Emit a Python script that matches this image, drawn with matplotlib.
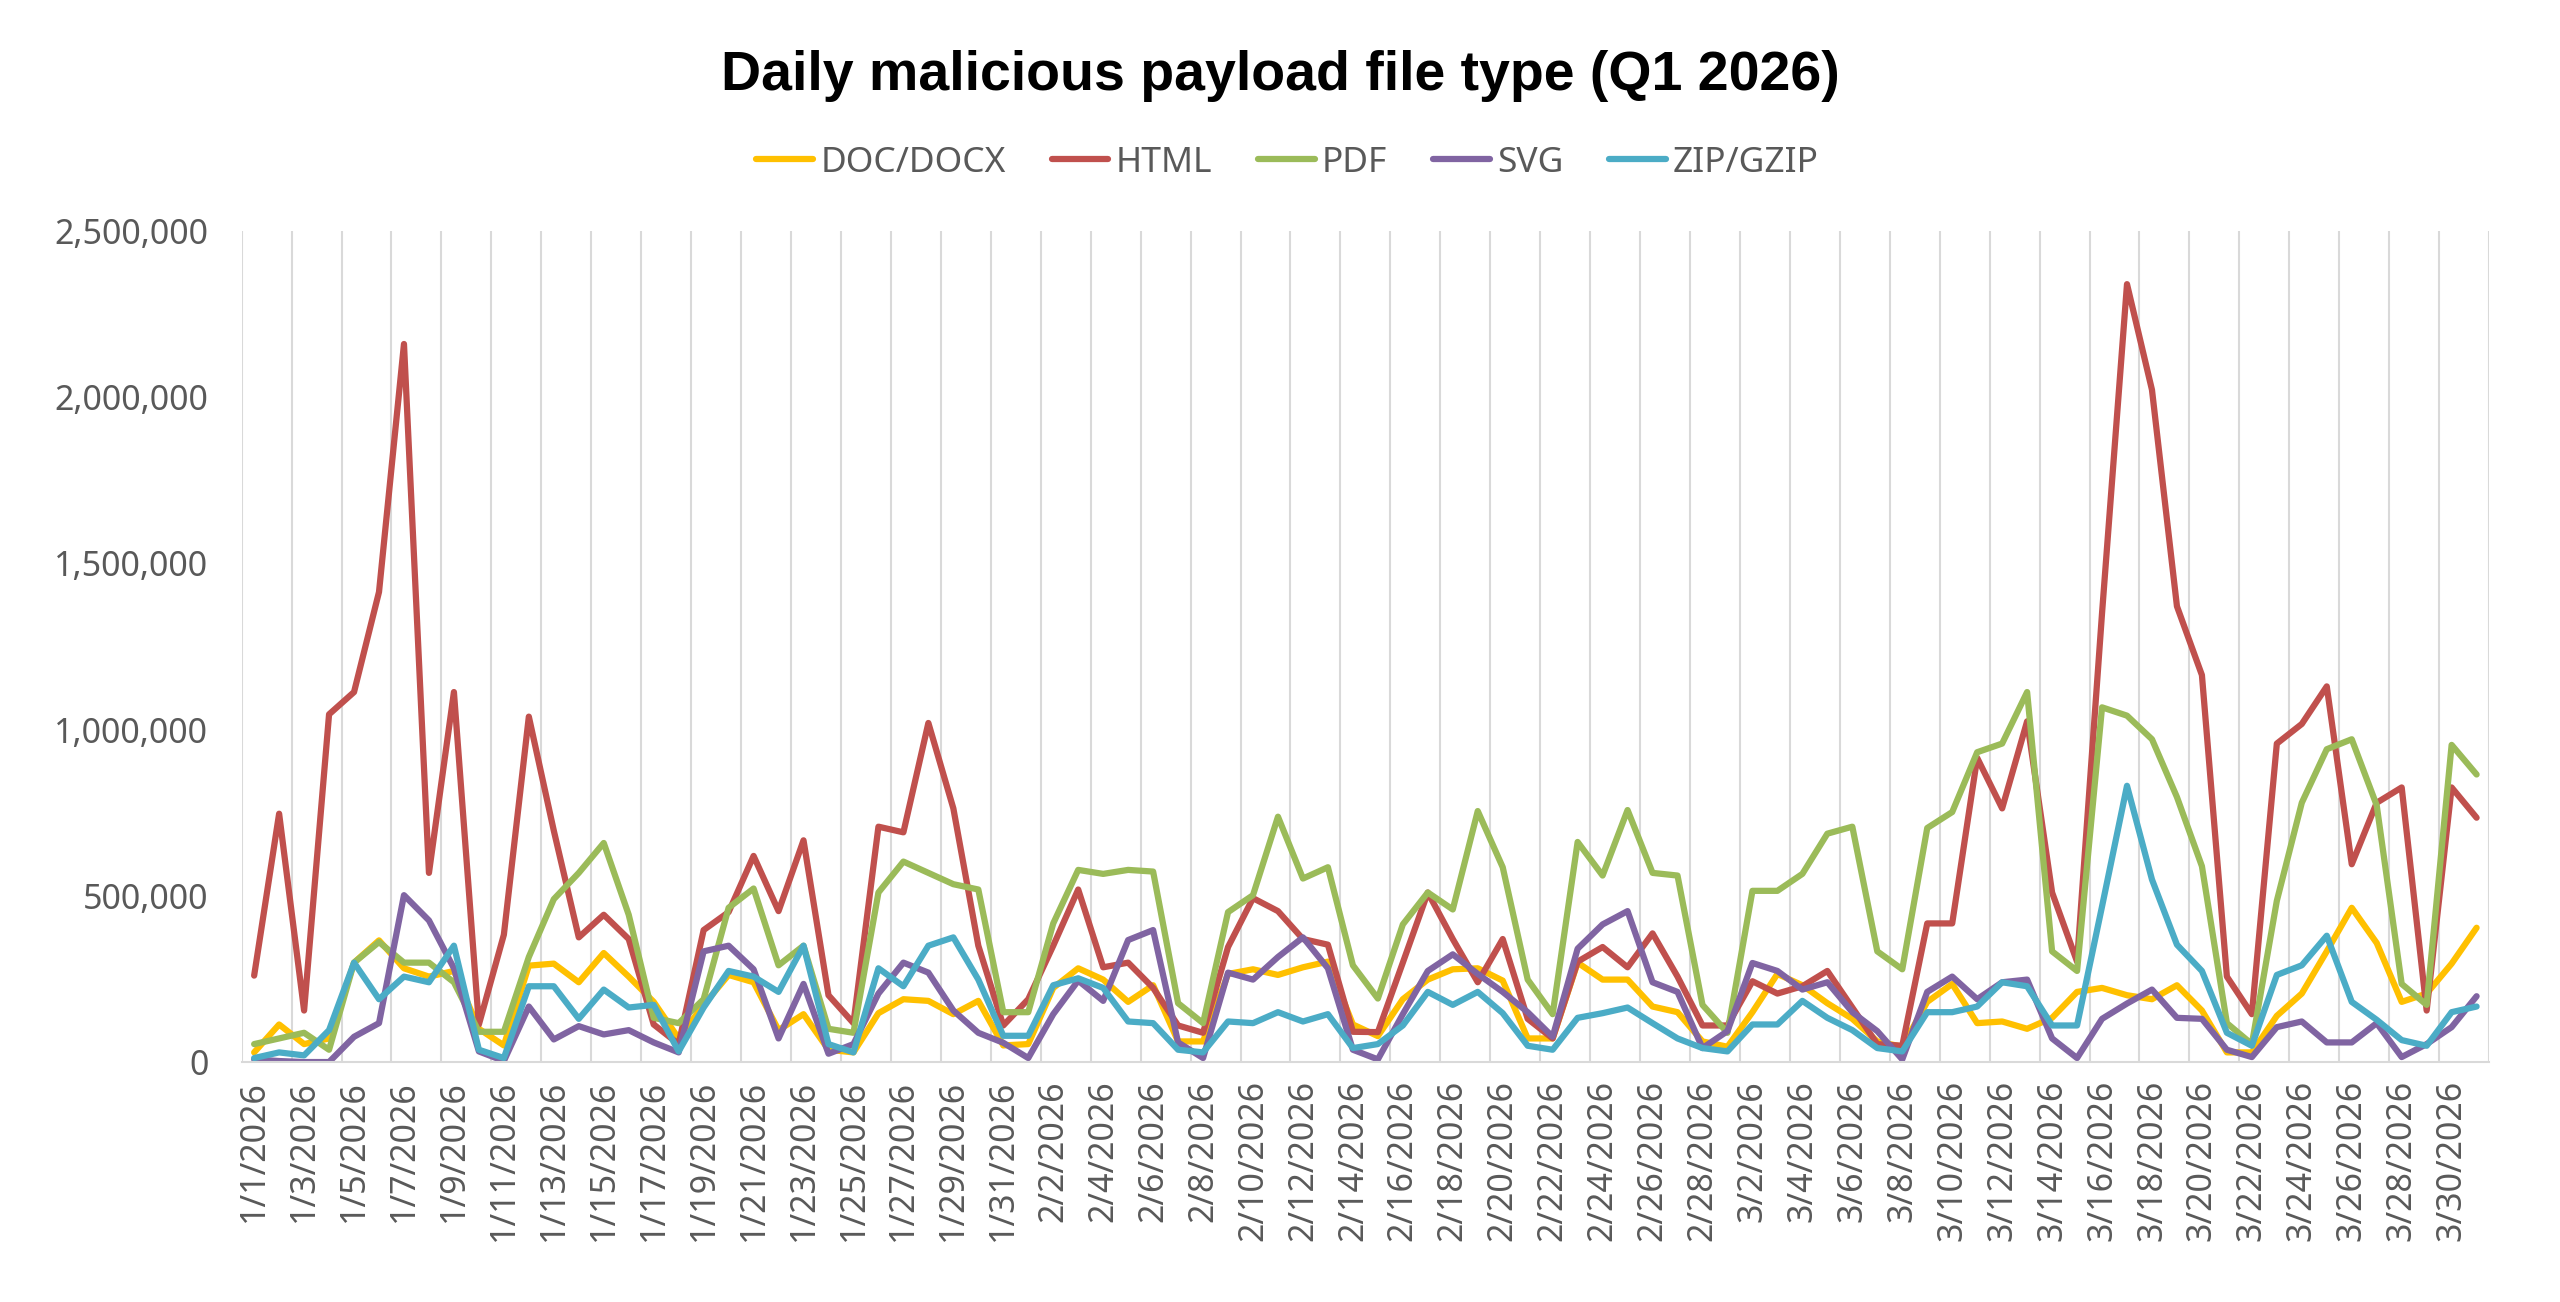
import numpy as np
import pandas as pd
import matplotlib
matplotlib.use("Agg")
import matplotlib.pyplot as plt
from matplotlib.ticker import FuncFormatter

# daily counts, thousands
doc_docx = [29, 113, 54, 71, 299, 366, 282, 257, 274, 100, 50, 290, 296, 240, 328,
            257, 181, 71, 172, 262, 240, 96, 144, 37, 29, 147, 189, 184, 144, 184, 50,
            54, 223, 282, 248, 181, 231, 62, 62, 265, 279, 262, 285, 302, 113, 78,
            189, 248, 279, 282, 245, 71, 71, 299, 248, 248, 167, 150, 62, 46, 150,
            265, 231, 177, 130, 62, 46, 181, 235, 117, 122, 100, 133, 211, 223, 201,
            189, 231, 155, 29, 29, 139, 206, 333, 464, 358, 181, 206, 296, 404]
html = [260, 747, 155, 1046, 1113, 1414, 2160, 569, 1113, 113, 383, 1039, 696, 375, 443,
        370, 113, 54, 397, 451, 620, 454, 667, 201, 117, 708, 691, 1020, 763, 350, 110,
        189, 350, 519, 285, 299, 223, 110, 88, 346, 493, 454, 370, 353, 91, 90,
        299, 510, 370, 240, 370, 130, 71, 302, 346, 285, 387, 257, 110, 110, 243,
        206, 228, 274, 164, 54, 49, 417, 417, 915, 763, 1025, 510, 302, 1350, 2340,
        2022, 1371, 1164, 257, 144, 958, 1017, 1130, 595, 780, 826, 155, 826, 735]
pdf = [54, 71, 88, 37, 299, 361, 299, 299, 240, 91, 91, 316, 490, 569, 659,
       443, 133, 117, 189, 464, 522, 291, 350, 100, 88, 510, 603, 569, 535, 519, 150,
       150, 417, 578, 566, 578, 573, 177, 117, 451, 502, 738, 552, 586, 291, 191,
       414, 510, 459, 755, 586, 248, 144, 662, 561, 758, 569, 561, 172, 88, 515,
       515, 566, 687, 708, 333, 279, 704, 752, 932, 958, 1113, 333, 274, 1067, 1042,
       971, 797, 589, 117, 54, 485, 780, 941, 971, 772, 235, 172, 954, 865]
svg = [8, 3, 0, 0, 76, 117, 502, 426, 282, 32, 3, 167, 68, 108, 83,
       96, 59, 29, 333, 350, 279, 71, 235, 25, 54, 206, 299, 269, 155, 88, 58,
       12, 144, 245, 184, 367, 397, 59, 12, 269, 248, 316, 375, 282, 37, 8,
       144, 274, 324, 265, 211, 150, 76, 341, 414, 454, 240, 211, 42, 93, 298,
       274, 218, 240, 150, 93, 8, 211, 257, 189, 240, 248, 71, 12, 130, 176,
       218, 133, 130, 37, 15, 105, 122, 59, 59, 117, 15, 54, 105, 198]
zip_gzip = [12, 29, 20, 96, 299, 189, 257, 240, 350, 37, 12, 228, 228, 130, 218,
            164, 172, 32, 164, 274, 257, 211, 350, 54, 29, 282, 228, 350, 375, 248, 79,
            79, 231, 252, 223, 122, 117, 37, 29, 122, 117, 150, 122, 144, 42, 54,
            110, 211, 172, 211, 147, 49, 37, 133, 147, 164, 117, 71, 42, 32, 113,
            113, 184, 133, 96, 42, 32, 150, 150, 167, 240, 228, 110, 110, 468, 831,
            549, 353, 274, 88, 49, 262, 291, 380, 181, 127, 66, 49, 150, 167]

dates = pd.date_range("2026-01-01", "2026-03-31")
date_labels = [f"{d.month}/{d.day}/{d.year}" for d in dates]

series = [("DOC/DOCX", doc_docx, "#FFC000"),
          ("HTML", html, "#C0504D"),
          ("PDF", pdf, "#9BBB59"),
          ("SVG", svg, "#8064A2"),
          ("ZIP/GZIP", zip_gzip, "#4BACC6")]

plt.rcParams["font.family"] = ["Noto Sans", "DejaVu Sans"]
grey = "#595959"

fig = plt.figure(figsize=(25.6, 13.02), dpi=100)
ax = fig.add_axes([0.0944, 0.1843, 0.8779, 0.6383])

x = np.arange(len(dates))
for name, vals, col in series:
    ax.plot(x, np.array(vals) * 1000, color=col, lw=4.5, label=name,
            solid_joinstyle="round", solid_capstyle="round")

ax.set_xlim(-0.5, len(dates) - 0.5)
ax.set_ylim(0, 2500000)
ax.set_yticks(np.arange(0, 2500001, 500000))
ax.yaxis.set_major_formatter(FuncFormatter(lambda v, p: f"{int(v):,}"))
ax.set_xticks(x[::2])
ax.set_xticklabels(date_labels[::2], rotation=90)
ax.set_xticks(np.arange(-0.5, len(dates), 2), minor=True)
ax.grid(True, which="minor", axis="x", color="#d9d9d9", lw=1.5)
ax.tick_params(axis="both", which="both", length=0, labelsize=24.5, labelcolor=grey)
ax.tick_params(axis="y", pad=24)
ax.tick_params(axis="x", pad=13)

for s in ["top", "right", "left"]:
    ax.spines[s].set_visible(False)
ax.spines["bottom"].set_color("#d9d9d9")
ax.spines["bottom"].set_linewidth(1.5)

fig.text(0.5, 0.942, "Daily malicious payload file type (Q1 2026)", ha="center", va="center",
         fontsize=40, fontweight="bold", family="Liberation Sans")
fig.legend(loc="center", bbox_to_anchor=(0.503, 0.875), ncol=5, frameon=False,
           fontsize=25.5, labelcolor=grey, handlelength=1.6, handletextpad=0.2,
           columnspacing=1.3)

fig.savefig("out.png", dpi=100)
